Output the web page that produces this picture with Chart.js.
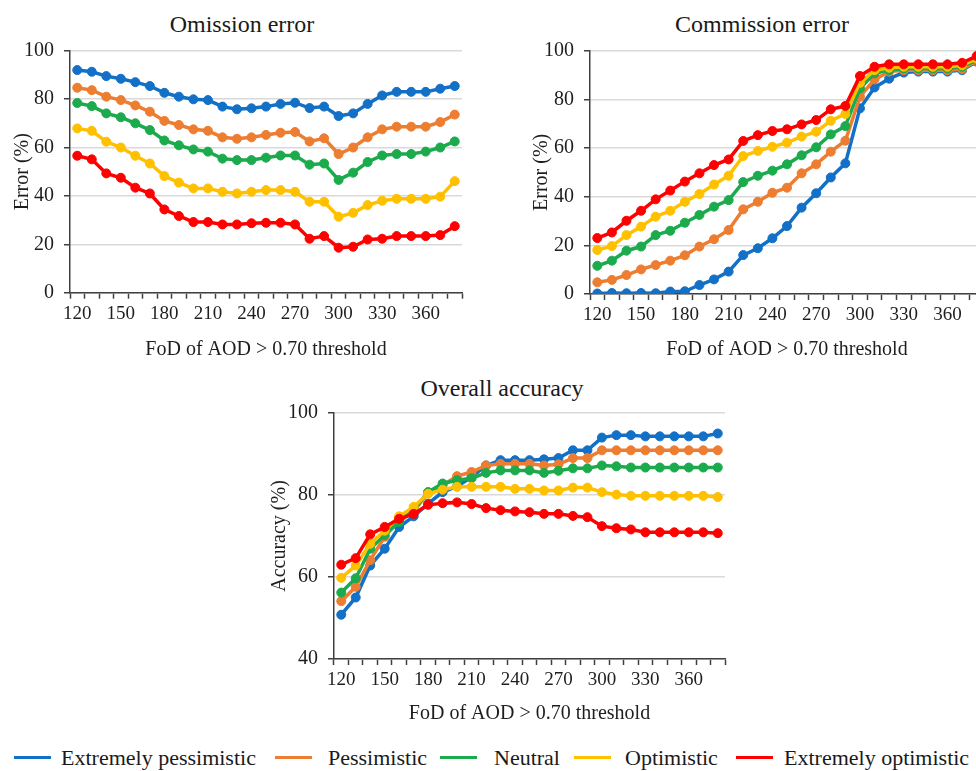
<!DOCTYPE html>
<html>
<head>
<meta charset="utf-8">
<script src="https://cdn.jsdelivr.net/npm/chart.js"></script>
<style>
  body { margin:0; width:976px; height:771px; overflow:hidden; position:relative; background:#fff;
         font-family:"Liberation Serif", "Times New Roman", serif; color:#1a1a1a; }
  canvas { position:absolute; }
  .ttl { position:absolute; font-size:24px; transform:translate(-50%,-50%); white-space:nowrap; }
  .lg-line { position:absolute; height:3px; top:756px; }
  .lg-text { position:absolute; top:745px; font-size:22px; white-space:nowrap; }
</style>
</head>
<body>
<div class="ttl" style="left:242px; top:24px">Omission error</div>
<div class="ttl" style="left:762px; top:24px">Commission error</div>
<div class="ttl" style="left:502px; top:388px">Overall accuracy</div>

<canvas id="omission" width="490" height="365" style="left:0; top:0"></canvas>
<canvas id="commission" width="520" height="365" style="left:490px; top:0"></canvas>
<canvas id="accuracy" width="500" height="370" style="left:240px; top:360px"></canvas>

<div id="legend"></div>

<script>
// x categories: FoD of AOD > 0.70 threshold
var thresholds = [120, 130, 140, 150, 160, 170, 180, 190, 200, 210, 220, 230, 240, 250, 260,
                  270, 280, 290, 300, 310, 320, 330, 340, 350, 360, 370, 380];

var scenarios = ['Extremely pessimistic', 'Pessimistic', 'Neutral', 'Optimistic', 'Extremely optimistic'];
var colors = ['#1270C6', '#ED7D31', '#1BAA4C', '#FFC000', '#FF0000'];

// omission error (%)
var omExtPess = [92, 91.3, 89.5, 88.4, 87, 85.4, 82.6, 81, 79.9, 79.6, 76.9, 75.8, 76.2, 76.9, 78, 78.5, 76.3, 76.9, 73, 74.1, 78, 81.5, 83, 83, 83, 84.3, 85.4];
var omPess    = [84.7, 83.7, 81, 79.6, 77.4, 74.8, 71, 69.3, 67.5, 66.9, 64.2, 63.6, 64.2, 65.2, 66.1, 66.4, 62.5, 63.8, 57.3, 60, 64.2, 67.5, 68.6, 68.6, 68.6, 70.5, 73.6];
var omNeutral = [78.4, 77.1, 74.1, 72.5, 70, 67.2, 62.9, 60.9, 59.2, 58.3, 55.4, 54.8, 54.8, 55.8, 56.7, 56.7, 52.9, 53.4, 46.6, 49.6, 54, 56.7, 57.3, 57.3, 58.3, 60, 62.5];
var omOpt     = [67.9, 66.9, 62.4, 60, 56.6, 53.4, 48.2, 45.5, 43.1, 43.1, 41.7, 41, 41.7, 42.4, 42.4, 41.7, 37.6, 37.6, 31.4, 33, 36.2, 38, 38.8, 38.8, 38.8, 39.7, 46.1];
var omExtOpt  = [56.6, 55.1, 49.3, 47.5, 43.4, 41, 34.4, 31.7, 29.2, 29.2, 28.2, 28.2, 28.7, 28.9, 28.9, 28.2, 22.3, 23.4, 18.6, 19, 22, 22.3, 23.4, 23.4, 23.4, 23.8, 27.5];

// commission error (%)
var coExtPess = [0.2, 0.4, 0.3, 0.4, 0.3, 1, 1.1, 3.7, 6, 9.2, 16, 18.8, 22.9, 27.9, 35.5, 41.4, 47.9, 53.7, 76.3, 84.9, 88.5, 91, 91.4, 91.4, 91.4, 92, 95.5];
var coPess    = [4.8, 5.8, 7.8, 10.1, 11.9, 13.7, 15.9, 19.5, 22.5, 26.3, 34.8, 37.9, 41.6, 43.7, 49.6, 53.3, 58.5, 63, 81.1, 88.2, 91.4, 92, 92, 92, 92, 92.5, 95.8];
var coNeutral = [11.6, 13.7, 17.8, 19.5, 24.2, 26, 29.3, 32.5, 35.9, 38.6, 46, 48.6, 50.7, 53.3, 57, 60.3, 65.6, 69, 84.5, 90.7, 92, 92.7, 92.7, 92.7, 92.7, 93.4, 96.2];
var coOpt     = [18.1, 19.7, 24.2, 27.7, 31.8, 34.2, 37.9, 41.1, 45, 48.6, 56.7, 58.8, 60.5, 62.2, 64.7, 66.7, 71.2, 74, 86.8, 92, 93, 93.4, 93.4, 93.4, 93.4, 94, 96.7];
var coExtOpt  = [23, 25.3, 30.1, 34.2, 38.9, 42.5, 46.2, 49.6, 53, 55.3, 62.9, 65.3, 67, 67.7, 69.7, 71.5, 75.9, 77.3, 89.6, 93.4, 94.4, 94.4, 94.4, 94.4, 94.4, 95, 97.8];

// overall accuracy (%)
var acExtPess = [50.8, 55, 62.8, 66.9, 72.2, 74.8, 77.9, 80.7, 82.1, 84.4, 87.2, 88.5, 88.5, 88.5, 88.7, 89, 90.9, 90.9, 94, 94.6, 94.6, 94.3, 94.3, 94.3, 94.3, 94.3, 95];
var acPess    = [54.1, 57.6, 64.1, 69.8, 74.2, 75.9, 80.7, 82.4, 84.6, 85.6, 87.2, 87.6, 87.6, 87.6, 87.2, 87.5, 89, 89, 90.9, 90.9, 90.9, 90.9, 90.9, 90.9, 90.9, 90.9, 90.9];
var acNeutral = [56.2, 59.7, 66.9, 70.2, 73.4, 76.3, 80.7, 82.8, 83.6, 84.1, 85.4, 86, 86, 86, 85.4, 85.9, 86.5, 86.5, 87.2, 87, 86.7, 86.7, 86.7, 86.7, 86.7, 86.7, 86.7];
var acOpt     = [59.8, 62.8, 68.1, 71.3, 74.8, 77.1, 80.3, 81.3, 82, 82, 82, 82, 81.5, 81.5, 81.1, 81.1, 81.8, 81.8, 80.7, 80.1, 79.8, 79.8, 79.8, 79.8, 79.8, 79.8, 79.5];
var acExtOpt  = [63, 64.6, 70.4, 72.2, 74.2, 75.4, 77.6, 78, 78.2, 77.8, 76.8, 76.3, 76, 75.8, 75.4, 75.4, 74.9, 74.6, 72.4, 71.9, 71.6, 70.9, 70.9, 70.9, 70.9, 70.9, 70.7];

var FONT = 'Liberation Serif';
var TXT = '#1e1e1e';
var AXIS = '#404040';

function makeChart(id, series, yMin, yMax, yTitle, box) {
    var datasets = [];
    for (var i = 0; i < series.length; i++) {
        datasets.push({
            label: scenarios[i],
            data: series[i],
            borderColor: colors[i],
            backgroundColor: colors[i],
            borderWidth: 3.5,
            pointRadius: 4.5,
            pointBorderWidth: 1,
            tension: 0,
            order: 5 - i   // last series on top, like the original
        });
    }

    new Chart(document.getElementById(id), {
        type: 'line',
        data: { labels: thresholds, datasets: datasets },
        options: {
            responsive: false,
            animation: false,
            layout: { padding: { left: box.pl, right: box.pr, top: box.pt, bottom: 0 } },
            plugins: { legend: { display: false }, tooltip: { enabled: false } },
            scales: {
                x: {
                    type: 'category',
                    offset: true,
                    afterFit: function (s) { s.height = box.xh; },
                    grid: { offset: true, drawOnChartArea: false, tickLength: 6, tickColor: AXIS, tickWidth: 1.5 },
                    border: { color: AXIS, width: 1.5 },
                    ticks: {
                        autoSkip: false, maxRotation: 0, padding: 4, color: TXT,
                        font: { family: FONT, size: 19 },
                        callback: function (v, i) { return i % 3 === 0 ? thresholds[i] : ''; }
                    },
                    title: {
                        display: true, text: 'FoD of AOD > 0.70 threshold', color: TXT,
                        font: { family: FONT, size: 20 }, padding: { top: 0, bottom: box.xtb }
                    }
                },
                y: {
                    min: yMin, max: yMax,
                    afterFit: function (s) { s.width = box.yw; },
                    grid: { color: '#d9d9d9', lineWidth: 1.5, tickLength: 6, tickColor: AXIS, tickWidth: 1.5 },
                    border: { color: AXIS, width: 1.5 },
                    ticks: { stepSize: 20, padding: 10, color: TXT, font: { family: FONT, size: 20 } },
                    title: {
                        display: true, text: yTitle, color: TXT,
                        font: { family: FONT, size: 20 }, padding: { top: box.ytp, bottom: 0 }
                    }
                }
            }
        }
    });
}

makeChart('omission', [omExtPess, omPess, omNeutral, omOpt, omExtOpt], 0, 100, 'Error (%)',
    { pl: 0, pr: 28, pt: 50.7, yw: 70, xh: 72.3, xtb: 3, ytp: 11 });
makeChart('commission', [coExtPess, coPess, coNeutral, coOpt, coExtOpt], 0, 100, 'Error (%)',
    { pl: 30, pr: 26, pt: 50.7, yw: 70, xh: 71, xtb: 3, ytp: 10 });
makeChart('accuracy', [acExtPess, acPess, acNeutral, acOpt, acExtOpt], 40, 100, 'Accuracy (%)',
    { pl: 18, pr: 15, pt: 53, yw: 76, xh: 71, xtb: 4, ytp: 10 });

// shared legend under the charts
var legendPos = [[14, 61], [275, 328], [440, 494], [574, 625], [736, 784]];
var legend = document.getElementById('legend');
for (var k = 0; k < scenarios.length; k++) {
    var ln = document.createElement('div');
    ln.className = 'lg-line';
    ln.style.left = legendPos[k][0] + 'px';
    ln.style.width = '37px';
    ln.style.background = colors[k];
    legend.appendChild(ln);
    var tx = document.createElement('div');
    tx.className = 'lg-text';
    tx.style.left = legendPos[k][1] + 'px';
    tx.textContent = scenarios[k];
    legend.appendChild(tx);
}
</script>
</body>
</html>
